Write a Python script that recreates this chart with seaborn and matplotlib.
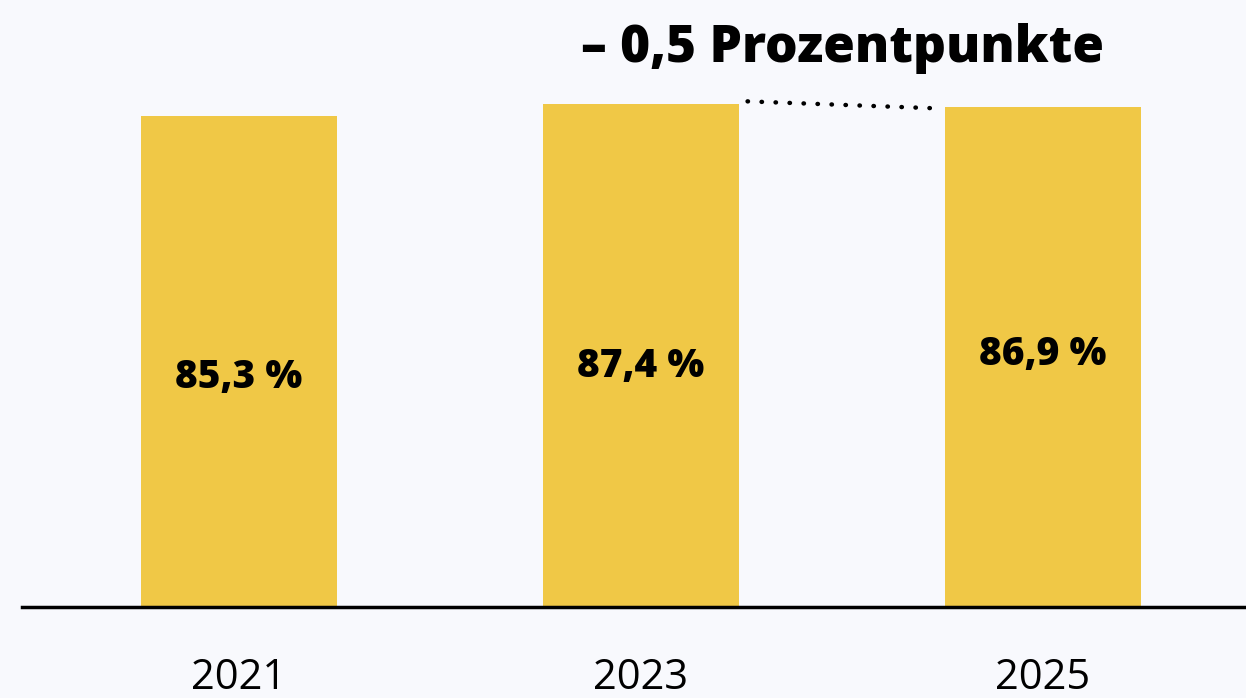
import matplotlib
matplotlib.use("Agg")
import matplotlib.pyplot as plt
import pandas as pd
import seaborn as sns

# data
years = ["2021", "2023", "2025"]
shares = [85.3, 87.4, 86.9]
value_labels = ["85,3 %", "87,4 %", "86,9 %"]
change_label = "\u2013 0,5 Prozentpunkte"

# where the value labels sit inside the bars (data units)
label_y = [39.8, 41.7, 43.9]

BG = "#f8f9fd"
BAR = "#f0c846"

sns.set_theme(style="white")
plt.rcParams["font.family"] = ["Open Sans", "DejaVu Sans"]

df = pd.DataFrame({"year": years, "share": shares})

fig = plt.figure(figsize=(12.46, 6.98), dpi=100, facecolor=BG)
ax = fig.add_axes([22 / 1246, 91 / 698, 1 - 22 / 1246, 607 / 698])
ax.set_facecolor(BG)

sns.barplot(data=df, x="year", y="share", color=BAR, width=0.488,
            saturation=1, linewidth=0, ax=ax)

ax.set_xlim(-0.54, 2.505)
ax.set_ylim(0, 105.4)

for i, (lab, y) in enumerate(zip(value_labels, label_y)):
    ax.text(i, y, lab, ha="center", va="center", fontsize=28,
            fontweight=800, color="black")

# dotted connector between the last two bars
ax.plot([1.265, 1.73], [shares[1] + 0.4, shares[2] - 0.3], color="black",
        linestyle=(0, (0.1, 3.05)), linewidth=3.2, dash_capstyle="round")
ax.text(1.5, 97.0, change_label, ha="center", va="center", fontsize=37,
        fontweight=800, color="black")

for s in ["top", "right", "left"]:
    ax.spines[s].set_visible(False)
ax.spines["bottom"].set_color("black")
ax.spines["bottom"].set_linewidth(2.5)

ax.set_xlabel("")
ax.set_ylabel("")
ax.set_yticks([])
ax.tick_params(axis="x", length=0, pad=36, labelsize=30, colors="black")

fig.savefig("out.png", dpi=100, facecolor=BG)
